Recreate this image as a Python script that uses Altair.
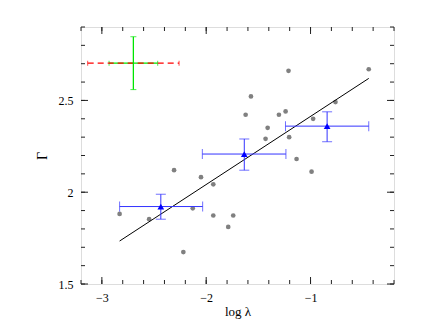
import altair as alt
import pandas as pd

# individual sources (gray)
pts_x = [-2.83, -2.547, -2.308, -2.219, -2.129, -2.05, -1.932, -1.932, -1.789, -1.741,
         -1.622, -1.571, -1.431, -1.411, -1.303, -1.239, -1.211, -1.205, -1.134, -0.99,
         -0.975, -0.761, -0.442]
pts_y = [1.882, 1.853, 2.12, 1.674, 1.912, 2.082, 2.043, 1.873, 1.811, 1.873,
         2.422, 2.522, 2.291, 2.351, 2.422, 2.44, 2.661, 2.30, 2.181, 2.112,
         2.40, 2.491, 2.67]

# binned averages (blue)
bin_x = [-2.435, -1.635, -0.841]
bin_y = [1.922, 2.208, 2.36]
bin_xlo = [-2.83, -2.037, -1.24]
bin_xhi = [-2.034, -1.236, -0.442]
bin_ylo = [1.853, 2.12, 2.275]
bin_yhi = [1.989, 2.29, 2.438]

# fitted line
fit_x = [-2.83, -0.442]
fit_y = [1.734, 2.62]

# typical error cross (top left)
cross_x = [-2.698]
cross_y = [2.703]
cross_red_lo = [-3.136]
cross_red_hi = [-2.26]
cross_grn_lo = [-2.931]
cross_grn_hi = [-2.465]
cross_ylo = [2.559]
cross_yhi = [2.847]

x_major = [-3, -2, -1]
x_minor = [round(-3.2 + 0.2 * i, 2) for i in range(16)]
y_major = [1.5, 2, 2.5]
y_minor = [round(1.5 + 0.1 * i, 2) for i in range(15)]

W, H = 313, 257
FONT = "Liberation Serif"

xs = alt.Scale(domain=[-3.2, -0.2], nice=False, zero=False)
ys = alt.Scale(domain=[1.5, 2.9], nice=False, zero=False)

pts = pd.DataFrame({"x": pts_x, "y": pts_y})
bins = pd.DataFrame({"x": bin_x, "y": bin_y, "xlo": bin_xlo, "xhi": bin_xhi,
                     "ylo": bin_ylo, "yhi": bin_yhi})
fit = pd.DataFrame({"x": fit_x, "y": fit_y})
cross = pd.DataFrame({"x": cross_x, "y": cross_y, "rlo": cross_red_lo, "rhi": cross_red_hi,
                      "glo": cross_grn_lo, "ghi": cross_grn_hi, "ylo": cross_ylo, "yhi": cross_yhi})

xax = alt.Axis(values=x_major, format="~g", ticks=False, domain=False, grid=False,
               labelFont=FONT, labelFontSize=12, labelColor="black", labelPadding=8,
               title="log λ", titleFont=FONT, titleFontSize=13, titleFontWeight="normal",
               titleColor="black", titlePadding=2)
yax = alt.Axis(values=y_major, format="~g", ticks=False, domain=False, grid=False,
               labelFont=FONT, labelFontSize=12, labelColor="black", labelPadding=8,
               title="Γ", titleFont=FONT, titleFontSize=14, titleFontWeight="normal",
               titleColor="black", titlePadding=9)


def X(f):
    return alt.X(f, scale=xs, axis=xax, title="log λ")


def Y(f):
    return alt.Y(f, scale=ys, axis=yax, title="Γ")


scatter = alt.Chart(pts).mark_circle(color="#808080", opacity=1, size=22).encode(
    x=X("x:Q"), y=Y("y:Q"))

fitline = alt.Chart(fit).mark_line(color="black", strokeWidth=1).encode(x=X("x:Q"), y=Y("y:Q"))

blue = "#3333ff"
bh = alt.Chart(bins).mark_rule(color=blue, strokeWidth=1).encode(x=X("xlo:Q"), x2="xhi:Q", y=Y("y:Q"))
bv = alt.Chart(bins).mark_rule(color=blue, strokeWidth=1).encode(x=X("x:Q"), y=Y("ylo:Q"), y2="yhi:Q")
bcap_l = alt.Chart(bins).mark_tick(color=blue, orient="vertical", size=10, thickness=1).encode(x=X("xlo:Q"), y=Y("y:Q"))
bcap_r = alt.Chart(bins).mark_tick(color=blue, orient="vertical", size=10, thickness=1).encode(x=X("xhi:Q"), y=Y("y:Q"))
bcap_b = alt.Chart(bins).mark_tick(color=blue, orient="horizontal", size=10, thickness=1).encode(x=X("x:Q"), y=Y("ylo:Q"))
bcap_t = alt.Chart(bins).mark_tick(color=blue, orient="horizontal", size=10, thickness=1).encode(x=X("x:Q"), y=Y("yhi:Q"))
tri = alt.Chart(bins).mark_point(shape="triangle-up", filled=True, color="#0000ff", opacity=1, size=45).encode(
    x=X("x:Q"), y=Y("y:Q"))

green = "#00e600"
red = "#ff0000"
LW = 1.3
gh = alt.Chart(cross).mark_rule(color=green, strokeWidth=LW).encode(x=X("glo:Q"), x2="ghi:Q", y=Y("y:Q"))
gcap1 = alt.Chart(cross).mark_tick(color=green, orient="vertical", size=5, thickness=1).encode(x=X("glo:Q"), y=Y("y:Q"))
gcap2 = alt.Chart(cross).mark_tick(color=green, orient="vertical", size=5, thickness=1).encode(x=X("ghi:Q"), y=Y("y:Q"))
rh = alt.Chart(cross).mark_rule(color=red, strokeWidth=LW, strokeDash=[6, 4]).encode(x=X("rlo:Q"), x2="rhi:Q", y=Y("y:Q"))
rcap1 = alt.Chart(cross).mark_tick(color=red, orient="vertical", size=5, thickness=1).encode(x=X("rlo:Q"), y=Y("y:Q"))
rcap2 = alt.Chart(cross).mark_tick(color=red, orient="vertical", size=5, thickness=1).encode(x=X("rhi:Q"), y=Y("y:Q"))
gv = alt.Chart(cross).mark_rule(color=green, strokeWidth=LW).encode(x=X("x:Q"), y=Y("ylo:Q"), y2="yhi:Q")
gcap3 = alt.Chart(cross).mark_tick(color=green, orient="horizontal", size=6, thickness=1).encode(x=X("x:Q"), y=Y("ylo:Q"))
gcap4 = alt.Chart(cross).mark_tick(color=green, orient="horizontal", size=6, thickness=1).encode(x=X("x:Q"), y=Y("yhi:Q"))

# inward frame ticks
frame = "#222222"
xmaj = pd.DataFrame({"v": x_major})
xmin = pd.DataFrame({"v": x_minor})
ymaj = pd.DataFrame({"v": y_major})
ymin = pd.DataFrame({"v": y_minor})


def xticks(df, L):
    b = alt.Chart(df).mark_rule(color=frame, strokeWidth=1).encode(
        x=X("v:Q"), y=alt.value(H), y2=alt.value(H - L))
    t = alt.Chart(df).mark_rule(color=frame, strokeWidth=1).encode(
        x=X("v:Q"), y=alt.value(0), y2=alt.value(L))
    return [b, t]


def yticks(df, L):
    l = alt.Chart(df).mark_rule(color=frame, strokeWidth=1).encode(
        y=Y("v:Q"), x=alt.value(0), x2=alt.value(L))
    r = alt.Chart(df).mark_rule(color=frame, strokeWidth=1).encode(
        y=Y("v:Q"), x=alt.value(W), x2=alt.value(W - L))
    return [l, r]


ticks = xticks(xmin, 4) + xticks(xmaj, 7) + yticks(ymin, 4) + yticks(ymaj, 7)

chart = alt.layer(
    scatter, *ticks, fitline,
    bh, bv, bcap_l, bcap_r, bcap_b, bcap_t, tri,
    gh, gcap1, gcap2, rh, rcap1, rcap2, gv, gcap3, gcap4,
).properties(
    width=W, height=H,
    autosize=alt.AutoSizeParams(type="none"),
    padding={"left": 73, "top": 19, "right": 20, "bottom": 40},
).configure_view(
    stroke=frame, strokeWidth=1.4
).configure(background="white")

chart.save("out.html", embed_options={"renderer": "svg", "actions": False})
